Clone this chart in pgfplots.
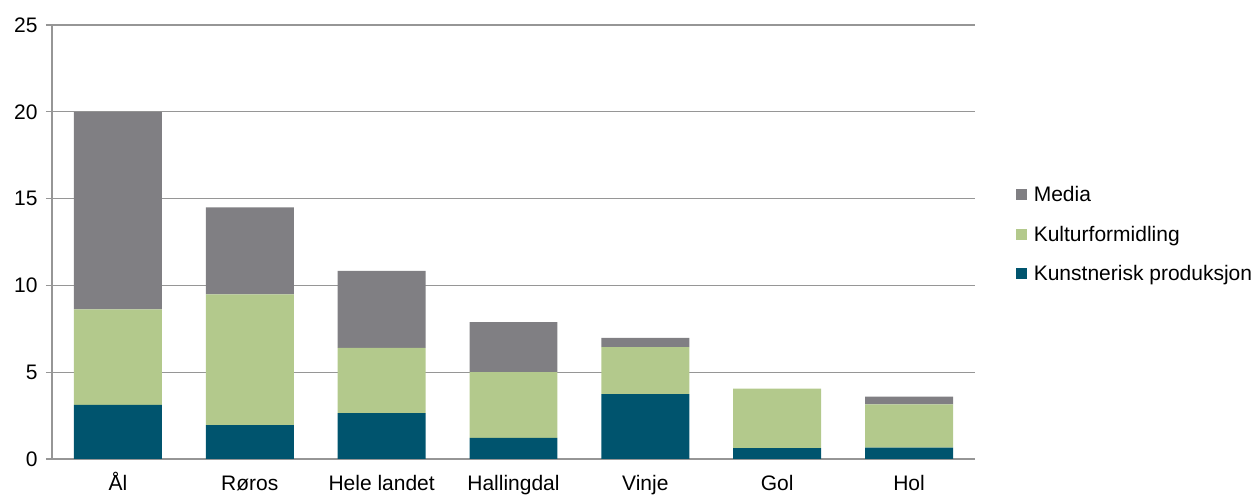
\documentclass[border=0pt]{standalone}
\usepackage{fontspec}
\setmainfont{Liberation Sans}
\usepackage{pgfplots}
\pgfplotsset{compat=1.18}
\definecolor{kpblue}{RGB}{0,84,110}
\definecolor{kfgreen}{RGB}{179,201,140}
\definecolor{medgray}{RGB}{128,127,131}
\definecolor{axgray}{RGB}{150,150,150}
\newcommand{\lblfont}{\fontsize{21bp}{25bp}\selectfont}
\begin{document}
\begin{tikzpicture}
\begin{axis}[
  scale only axis, width=923bp, height=434bp,
  ybar stacked, bar width=0.667,
  xmin=-0.5, xmax=6.5, ymin=0, ymax=25,
  axis x line*=bottom, axis y line*=left,
  axis line style={axgray, line width=1.2bp},
  xtick={0,...,6},
  xticklabels={Ål,Røros,Hele landet,Hallingdal,Vinje,Gol,Hol},
  major x tick style={draw=none},
  extra x ticks={-0.5,0.5,...,6.5}, extra x tick labels={},
  extra x tick style={grid=none, major tick length=5bp, tick align=outside,
    tick style={axgray, line width=1.2bp}},
  ytick={0,5,...,25},
  ymajorgrids, grid style={axgray, line width=1.2bp},
  tick align=outside, major tick length=6bp,
  y tick style={axgray, line width=1.2bp},
  tick label style={font=\lblfont},
  /pgf/number format/assume math mode=true,
  yticklabel style={xshift=-5bp},
  xticklabel style={anchor=base, yshift=-25bp},
  legend style={draw=none, fill=none, at={(1.044,0.518)}, anchor=west,
    font=\lblfont, row sep=19bp, inner sep=0pt,
    /tikz/every odd column/.append style={column sep=5bp}},
  legend cell align=left,
  reverse legend,
  legend image code/.code={\fill[#1] (0bp,-5.5bp) rectangle (11bp,5.5bp);},
]
\addplot[fill=kpblue, draw=none] coordinates {(0,3.12) (1,1.95) (2,2.64) (3,1.21) (4,3.73) (5,0.62) (6,0.65)};
\addlegendentry{Kunstnerisk produksjon}
\addplot[fill=kfgreen, draw=none] coordinates {(0,5.50) (1,7.53) (2,3.76) (3,3.80) (4,2.71) (5,3.44) (6,2.50)};
\addlegendentry{Kulturformidling}
\addplot[fill=medgray, draw=none] coordinates {(0,11.38) (1,5.02) (2,4.43) (3,2.88) (4,0.54) (5,0) (6,0.45)};
\addlegendentry{Media}
\end{axis}
\pgfresetboundingbox
\path[use as bounding box] (current axis.south west) ++(-52bp,-36bp) rectangle ++(1255bp,495bp);
\end{tikzpicture}
\end{document}
